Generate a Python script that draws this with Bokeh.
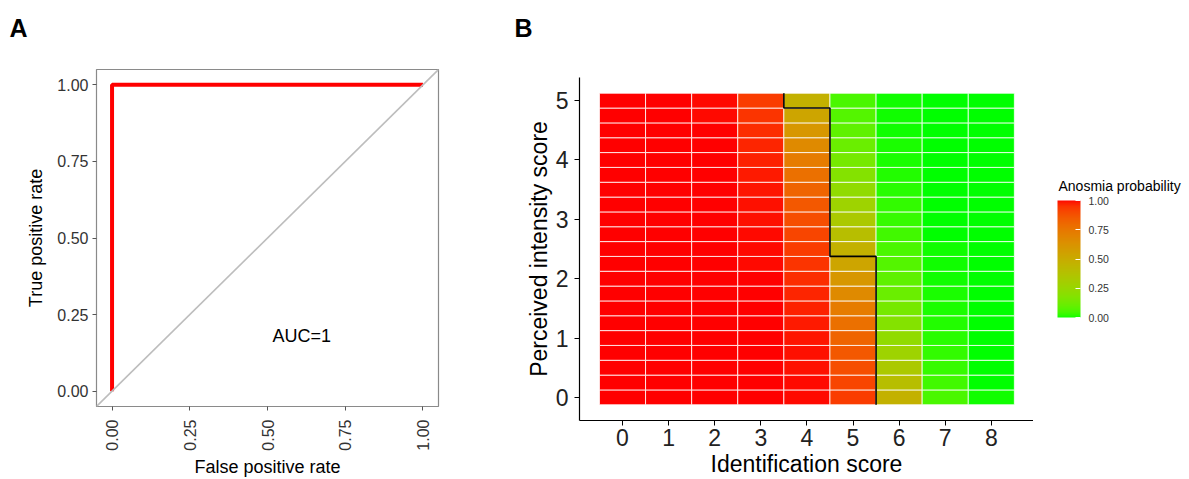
import math
import numpy as np
from bokeh.plotting import figure
from bokeh.layouts import row, column
from bokeh.models import (ColumnDataSource, LinearColorMapper, ColorBar, FixedTicker,
                          PrintfTickFormatter, Slope, Label)
from bokeh.transform import linear_cmap
from bokeh.embed import file_html
from bokeh.resources import INLINE

# ---------------- data ----------------
# Panel A: ROC curve
fpr = [0.0, 0.0, 1.0]
tpr = [0.0, 1.0, 1.0]
auc_text = "AUC=1"
roc_ticks = [0.0, 0.25, 0.5, 0.75, 1.0]

# Panel B: anosmia probability grid
identification_scores = [0, 1, 2, 3, 4, 5, 6, 7, 8]
intensity_scores = [0.00, 0.25, 0.50, 0.75, 1.00, 1.25, 1.50, 1.75, 2.00, 2.25, 2.50,
                    2.75, 3.00, 3.25, 3.50, 3.75, 4.00, 4.25, 4.50, 4.75, 5.00]
intensity_ticks = [0, 1, 2, 3, 4, 5]

prob_id0 = [1.000, 1.000, 1.000, 1.000, 1.000, 1.000, 1.000, 1.000, 1.000, 1.000, 1.000,
            1.000, 1.000, 1.000, 1.000, 1.000, 1.000, 1.000, 1.000, 1.000, 1.000]
prob_id1 = [1.000, 1.000, 1.000, 1.000, 1.000, 1.000, 1.000, 1.000, 1.000, 1.000, 1.000,
            1.000, 1.000, 1.000, 1.000, 1.000, 1.000, 1.000, 1.000, 0.999, 0.999]
prob_id2 = [1.000, 1.000, 1.000, 1.000, 1.000, 1.000, 1.000, 1.000, 1.000, 1.000, 1.000,
            1.000, 1.000, 0.999, 0.999, 0.999, 0.998, 0.998, 0.997, 0.996, 0.995]
prob_id3 = [1.000, 1.000, 1.000, 0.999, 0.999, 0.999, 0.998, 0.998, 0.997, 0.996, 0.995,
            0.994, 0.992, 0.989, 0.986, 0.982, 0.976, 0.969, 0.959, 0.947, 0.932]
prob_id4 = [0.995, 0.994, 0.992, 0.989, 0.986, 0.982, 0.976, 0.969, 0.959, 0.947, 0.932,
            0.912, 0.887, 0.857, 0.819, 0.775, 0.724, 0.665, 0.602, 0.534, 0.466]
prob_id5 = [0.932, 0.912, 0.887, 0.857, 0.819, 0.775, 0.724, 0.665, 0.602, 0.534, 0.466,
            0.398, 0.335, 0.276, 0.225, 0.181, 0.143, 0.113, 0.088, 0.068, 0.053]
prob_id6 = [0.466, 0.398, 0.335, 0.276, 0.225, 0.181, 0.143, 0.113, 0.088, 0.068, 0.053,
            0.041, 0.031, 0.024, 0.018, 0.014, 0.011, 0.008, 0.006, 0.005, 0.004]
prob_id7 = [0.053, 0.041, 0.031, 0.024, 0.018, 0.014, 0.011, 0.008, 0.006, 0.005, 0.004,
            0.003, 0.002, 0.002, 0.001, 0.001, 0.001, 0.001, 0.000, 0.000, 0.000]
prob_id8 = [0.004, 0.003, 0.002, 0.002, 0.001, 0.001, 0.001, 0.001, 0.000, 0.000, 0.000,
            0.000, 0.000, 0.000, 0.000, 0.000, 0.000, 0.000, 0.000, 0.000, 0.000]
prob_columns = [prob_id0, prob_id1, prob_id2, prob_id3, prob_id4,
                prob_id5, prob_id6, prob_id7, prob_id8]
legend_ticks = [0.0, 0.25, 0.5, 0.75, 1.0]
legend_title = "Anosmia probability"
panel_letters = ["A", "B"]

FONT = "Liberation Sans"

# ---------------- colour ramp (CIELAB, green -> red) ----------------
def _srgb_to_lab(hexc):
    rgb = [int(hexc[i:i + 2], 16) / 255 for i in (1, 3, 5)]
    lin = [c / 12.92 if c <= 0.04045 else ((c + 0.055) / 1.055) ** 2.4 for c in rgb]
    X = 0.4124 * lin[0] + 0.3576 * lin[1] + 0.1805 * lin[2]
    Y = 0.2126 * lin[0] + 0.7152 * lin[1] + 0.0722 * lin[2]
    Z = 0.0193 * lin[0] + 0.1192 * lin[1] + 0.9505 * lin[2]
    xn, yn, zn = 0.95047, 1.0, 1.08883
    def f(t):
        return t ** (1 / 3) if t > 0.008856 else 7.787 * t + 16 / 116
    fx, fy, fz = f(X / xn), f(Y / yn), f(Z / zn)
    return (116 * fy - 16, 500 * (fx - fy), 200 * (fy - fz))

def _lab_to_hex(L, a, b):
    fy = (L + 16) / 116
    fx = fy + a / 500
    fz = fy - b / 200
    def finv(t):
        return t ** 3 if t ** 3 > 0.008856 else (t - 16 / 116) / 7.787
    X, Y, Z = 0.95047 * finv(fx), finv(fy), 1.08883 * finv(fz)
    r = 3.2406 * X - 1.5372 * Y - 0.4986 * Z
    g = -0.9689 * X + 1.8758 * Y + 0.0415 * Z
    bb = 0.0557 * X - 0.2040 * Y + 1.0570 * Z
    out = []
    for c in (r, g, bb):
        c = min(max(c, 0.0), 1.0)
        c = 12.92 * c if c <= 0.0031308 else 1.055 * c ** (1 / 2.4) - 0.055
        out.append(int(round(min(max(c, 0), 1) * 255)))
    return "#%02x%02x%02x" % tuple(out)

lo, hi = _srgb_to_lab("#00ff00"), _srgb_to_lab("#ff0000")
palette = [_lab_to_hex(*[lo[k] + (hi[k] - lo[k]) * t for k in range(3)])
           for t in np.linspace(0, 1, 256)]

def _blank(p):
    p.axis.visible = False
    p.grid.visible = False
    p.outline_line_color = None
    p.background_fill_color = "white"
    p.border_fill_color = "white"

# ---------------- header strip with panel letters ----------------
HEAD = 45
pH = figure(width=1189, height=HEAD, x_range=(0, 1189), y_range=(HEAD, 0),
            output_backend="svg", toolbar_location=None,
            min_border_left=0, min_border_right=0, min_border_top=0, min_border_bottom=0)
_blank(pH)
for letter, xpos in zip(panel_letters, [9, 514]):
    pH.add_layout(Label(x=xpos, y=27, text=letter, text_font=FONT, text_font_size="25px",
                        text_font_style="bold", text_color="black", text_align="left",
                        text_baseline="alphabetic"))

# ---------------- Panel A ----------------
H = 479 - HEAD
pA = figure(width=500, height=H, x_range=(-0.05, 1.05), y_range=(-0.05, 1.05),
            output_backend="svg", toolbar_location=None,
            min_border_left=96, min_border_right=62, min_border_top=69 - HEAD,
            min_border_bottom=68)
pA.grid.visible = False
pA.outline_line_color = "#8a8a8a"
pA.outline_line_width = 1.2
pA.background_fill_color = "white"
pA.border_fill_color = "white"

pA.add_layout(Slope(gradient=1, y_intercept=0, line_color="#bdbdbd", line_width=1.6))
pA.line(fpr, tpr, line_color="#ff0000", line_width=4)
pA.add_layout(Label(x=0.61, y=0.18, text=auc_text, text_font=FONT, text_font_size="18px",
                    text_color="black", text_align="center", text_baseline="middle"))

for ax in (pA.xaxis[0], pA.yaxis[0]):
    ax.ticker = FixedTicker(ticks=roc_ticks)
    ax.formatter = PrintfTickFormatter(format="%.2f")
    ax.axis_line_color = None
    ax.major_tick_out = 4
    ax.major_tick_in = 0
    ax.major_tick_line_color = "#555555"
    ax.minor_tick_line_color = None
    ax.major_label_text_font = FONT
    ax.major_label_text_font_size = "16px"
    ax.major_label_text_color = "#333333"
    ax.axis_label_text_font = FONT
    ax.axis_label_text_font_size = "18px"
    ax.axis_label_text_font_style = "normal"
    ax.axis_label_text_color = "black"
pA.xaxis.axis_label = "False positive rate"
pA.yaxis.axis_label = "True positive rate"
pA.xaxis.major_label_orientation = math.pi / 2
pA.xaxis.major_label_standoff = 9
pA.xaxis.axis_label_standoff = 3
pA.yaxis.major_label_standoff = 4
pA.yaxis.axis_label_standoff = 8

# ---------------- Panel B ----------------
xs, ys, ps = [], [], []
for xi, col in zip(identification_scores, prob_columns):
    for yv, pv in zip(intensity_scores, col):
        xs.append(xi)
        ys.append(yv)
        ps.append(pv)
src = ColumnDataSource(dict(x=xs, y=ys, p=ps))

pB = figure(width=533, height=H, x_range=(-0.933, 8.915), y_range=(-0.39, 5.39),
            output_backend="svg", toolbar_location=None,
            min_border_left=79, min_border_right=0, min_border_top=77 - HEAD,
            min_border_bottom=59)
pB.grid.visible = False
pB.outline_line_color = None
pB.background_fill_color = "white"
pB.border_fill_color = "white"

step = intensity_scores[1] - intensity_scores[0]
pB.rect(x="x", y="y", width=1, height=step, source=src,
        fill_color=linear_cmap("p", palette, 0, 1), line_color="white", line_width=0.8)

# decision boundary (p = 0.5) derived from the grid
top_edge = intensity_scores[-1] + step / 2
bot_edge = intensity_scores[0] - step / 2
bounds = []
for col in prob_columns:
    above = [yv for yv, pv in zip(intensity_scores, col) if pv >= 0.5]
    bounds.append(max(above) + step / 2 if above else bot_edge)
interior = [i for i, b in enumerate(bounds) if bot_edge < b < top_edge]
if interior:
    f, l = interior[0], interior[-1]
    bx = [identification_scores[f] - 0.5]
    by = [bounds[f - 1] if f > 0 else bounds[f]]
    for i in interior:
        bx += [identification_scores[i] - 0.5, identification_scores[i] + 0.5]
        by += [bounds[i], bounds[i]]
    bx.append(identification_scores[l] + 0.5)
    by.append(bounds[l + 1] if l + 1 < len(bounds) else bounds[l])
    pB.line(bx, by, line_color="black", line_width=1.6)

for ax in (pB.xaxis[0], pB.yaxis[0]):
    ax.axis_line_color = "black"
    ax.axis_line_width = 1.2
    ax.major_tick_out = 5
    ax.major_tick_in = 0
    ax.major_tick_line_color = "black"
    ax.minor_tick_line_color = None
    ax.major_label_text_font = FONT
    ax.major_label_text_font_size = "23px"
    ax.major_label_text_color = "#222222"
    ax.axis_label_text_font = FONT
    ax.axis_label_text_font_size = "23px"
    ax.axis_label_text_font_style = "normal"
    ax.axis_label_text_color = "black"
pB.xaxis.ticker = FixedTicker(ticks=identification_scores)
pB.yaxis.ticker = FixedTicker(ticks=intensity_ticks)
pB.xaxis.axis_label = "Identification score"
pB.yaxis.axis_label = "Perceived intensity score"
pB.xaxis.major_label_standoff = 3
pB.xaxis.axis_label_standoff = 2
pB.yaxis.major_label_standoff = 6
pB.yaxis.axis_label_standoff = 1

# ---------------- legend (colour bar) ----------------
pL = figure(width=1189 - 500 - 533, height=H, x_range=(0, 156), y_range=(479, HEAD),
            output_backend="svg", toolbar_location=None,
            min_border_left=0, min_border_right=0, min_border_top=0, min_border_bottom=0)
_blank(pL)
mapper = LinearColorMapper(palette=palette, low=0, high=1)
cb = ColorBar(color_mapper=mapper, ticker=FixedTicker(ticks=legend_ticks),
              formatter=PrintfTickFormatter(format="%.2f"),
              width=23, height=117, location=(24, 162), margin=0, padding=0,
              major_label_text_font=FONT, major_label_text_font_size="10.5px",
              major_label_text_color="#333333", label_standoff=8,
              major_tick_line_color="white", major_tick_in=5, major_tick_out=0,
              minor_tick_line_color=None, bar_line_color=None,
              border_line_color=None, background_fill_color=None)
pL.add_layout(cb, "center")
pL.add_layout(Label(x=25, y=185, text=legend_title, text_font=FONT, text_font_size="14px",
                    text_color="black", text_align="left", text_baseline="alphabetic"))

layout = column(pH, row(column(pA), column(pB), column(pL)))
open("out.html", "w").write(file_html(layout, INLINE))
